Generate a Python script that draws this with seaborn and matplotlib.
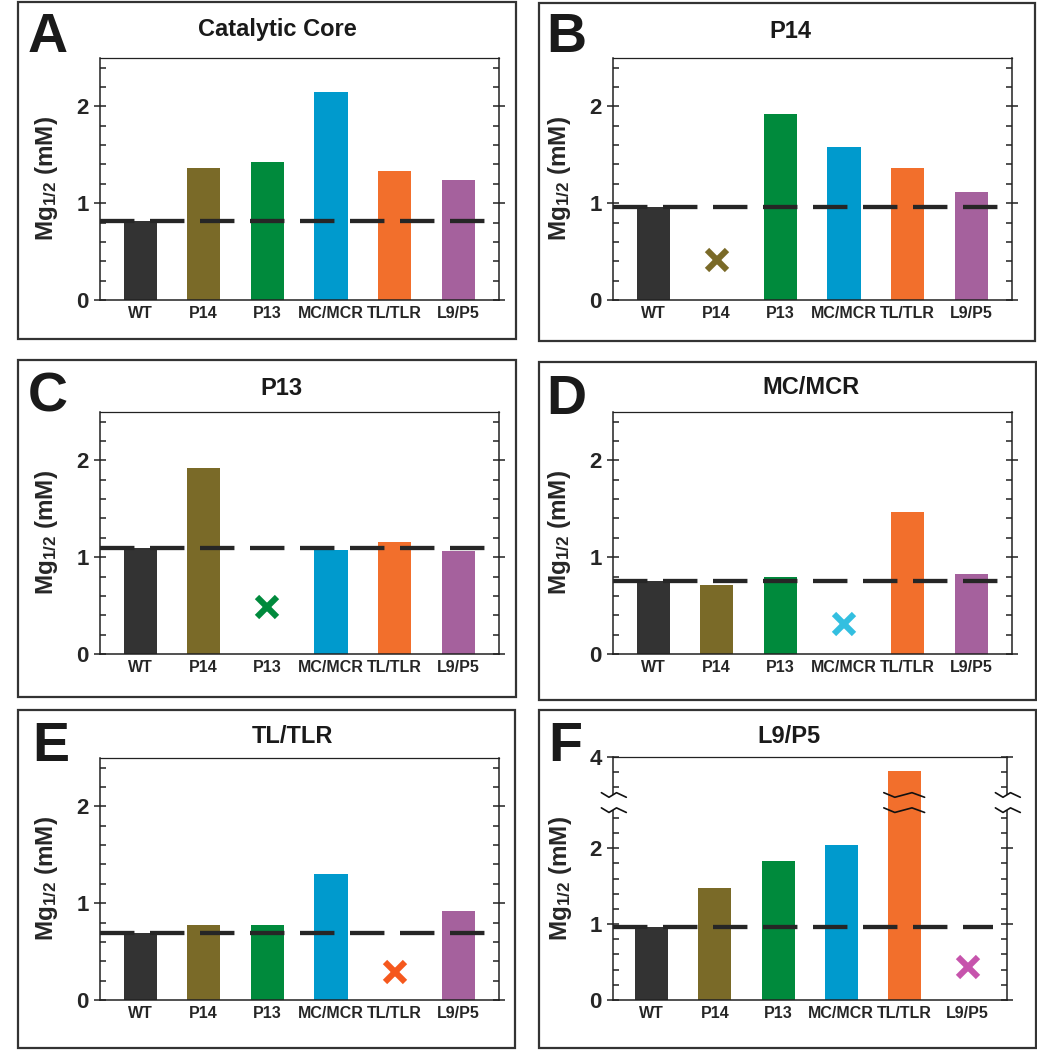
import numpy as np
import pandas as pd
import matplotlib
matplotlib.use("Agg")
import matplotlib.pyplot as plt
import matplotlib.transforms as mtransforms
from matplotlib.patches import Rectangle
import seaborn as sns

# ---- data ----
categories = ["WT", "P14", "P13", "MC/MCR", "TL/TLR", "L9/P5"]
bar_colors = ["#333333", "#7a6a28", "#008a3c", "#009acd", "#f26f2c", "#a5619d"]
panel_letters = ["A", "B", "C", "D", "E", "F"]
panel_titles = ["Catalytic Core", "P14", "P13", "MC/MCR", "TL/TLR", "L9/P5"]

vals_A = [0.82, 1.36, 1.43, 2.15, 1.33, 1.24]
vals_B = [0.96, np.nan, 1.92, 1.58, 1.36, 1.12]
vals_C = [1.10, 1.92, np.nan, 1.07, 1.16, 1.06]
vals_D = [0.75, 0.71, 0.80, np.nan, 1.47, 0.83]
vals_E = [0.69, 0.77, 0.77, 1.30, np.nan, 0.92]
vals_F = [0.96, 1.48, 1.83, 2.04, 3.81, np.nan]
all_vals = [vals_A, vals_B, vals_C, vals_D, vals_E, vals_F]

# "x" markers for the construct that was mutated in each panel
cross_vals = [None, 0.41, 0.49, 0.31, 0.29, 0.44]
cross_colors = [None, "#7a6a28", "#008a3c", "#33bfe0", "#f5581d", "#c654ac"]

y_major = [0, 1, 2]
y_major_F = [0, 1, 2, 4]

# ---- layout (pixels) ----
W, H = 1037, 1050
axes_px = [(100, 58, 499, 300), (613, 58, 1012, 300),
           (100, 412, 499, 654), (613, 412, 1012, 654),
           (100, 758, 499, 1000), (613, 757, 1007, 1000)]
box_px = [(18, 2, 516, 339), (539, 3, 1035, 341),
          (18, 360, 516, 697), (539, 362, 1036, 700),
          (18, 710, 515, 1048), (539, 710, 1036, 1048)]
letter_px = [(28, 52), (546, 52), (28, 412), (546, 414), (32, 761), (548, 761)]
title_px = [(277, 36), (790, 38), (281, 395), (811, 394), (292, 743), (789, 743)]

sns.set_style("white")
plt.rcParams["font.family"] = ["Liberation Sans", "DejaVu Sans"]
plt.rcParams["font.weight"] = "bold"
plt.rcParams["mathtext.fontset"] = "custom"
plt.rcParams["mathtext.rm"] = "Liberation Sans"
plt.rcParams["mathtext.default"] = "rm"
plt.rcParams["lines.scale_dashes"] = False

fig = plt.figure(figsize=(W / 100, H / 100), dpi=100)
fig.patch.set_facecolor("white")


def rect(l, t, r, b):
    return [l / W, 1 - b / H, (r - l) / W, (b - t) / H]


# broken y axis for panel F: 2.5-3.5 squeezed into a small gap
def fwd(y):
    y = np.asarray(y, dtype=float)
    return np.where(y <= 2.5, y, np.where(y <= 3.5, 2.5 + (y - 2.5) * 0.2, y - 0.8))


def inv(d):
    d = np.asarray(d, dtype=float)
    return np.where(d <= 2.5, d, np.where(d <= 2.7, 2.5 + (d - 2.5) / 0.2, d + 0.8))


palette = dict(zip(categories, bar_colors))

for i in range(6):
    vals = all_vals[i]
    ax = fig.add_axes(rect(*axes_px[i]))
    df = pd.DataFrame({"construct": categories, "mg": vals}).dropna()
    sns.barplot(data=df, x="construct", y="mg", hue="construct", order=categories,
                hue_order=categories, palette=palette, width=0.52, saturation=1,
                legend=False, errorbar=None, linewidth=0, ax=ax)

    broken = i == 5
    if broken:
        ax.set_yscale("function", functions=(fwd, inv))
        ax.set_ylim(0, 4)
        ax.set_yticks(y_major_F)
        ax.set_yticks(list(np.arange(0.2, 2.45, 0.2)) + [3.6, 3.8], minor=True)
        ax.set_xlim(-0.61, 5.62)
    else:
        ax.set_ylim(0, 2.5)
        ax.set_yticks(y_major)
        ax.set_yticks(np.arange(0.2, 2.45, 0.2), minor=True)
        ax.set_xlim(-0.63, 5.64)
    ax.set_yticklabels([str(t) for t in ax.get_yticks()])

    # WT reference (dashed)
    ax.axhline(vals[0], xmin=0, xmax=0.965, color="#262626", lw=3.1,
               dashes=(24.8, 11.2), zorder=5)

    # cross for the missing construct
    miss = [k for k, v in enumerate(vals) if np.isnan(v)]
    if miss:
        ax.plot(miss[0], cross_vals[i], marker="x", ms=15, mew=4.4,
                color=cross_colors[i], zorder=4, linestyle="none")

    ax.set_xlabel("")
    ax.set_ylabel("Mg$_{1/2}$ (mM)", fontsize=17.5, fontweight="bold")
    ax.yaxis.set_label_coords(-0.10, 0.5)

    ax.tick_params(axis="y", which="major", direction="inout", length=9, width=1.1,
                   left=True, right=True, labelsize=16, pad=3.5, color="#222222")
    ax.tick_params(axis="y", which="minor", direction="in", length=4.5, width=1.1,
                   left=True, right=True, color="#222222")
    ax.tick_params(axis="x", length=0, pad=4, labelsize=11.5)
    for s in ax.spines.values():
        s.set_visible(True)
        s.set_linewidth(1.1)
        s.set_color("#222222")
    ax.spines["top"].set_linewidth(0.9)

    if broken:
        # break markers on spines and across the tall bar
        aw = axes_px[i][2] - axes_px[i][0]
        ah = axes_px[i][3] - axes_px[i][1]
        y_lo, y_hi = fwd(2.5) / fwd(4.0), fwd(3.5) / fwd(4.0)
        zx = np.array([-11.6, -4.0, 3.5, 13.3]) / aw
        zy = np.array([2.3, -2.3, 2.3, -2.3]) / ah
        for xs in (0, 1):
            ax.add_patch(Rectangle((xs - 0.01, y_lo), 0.02, y_hi - y_lo,
                                   transform=ax.transAxes, facecolor="white",
                                   edgecolor="none", zorder=3, clip_on=False))
            for yc in (y_lo, y_hi):
                ax.plot(xs + zx, yc + zy, color="#111111", lw=1.2,
                        transform=ax.transAxes, clip_on=False, zorder=6)
        px_per_x = aw / (ax.get_xlim()[1] - ax.get_xlim()[0])
        blend = mtransforms.blended_transform_factory(ax.transData, ax.transAxes)
        for p in ax.patches:
            if isinstance(p, Rectangle) and abs(p.get_x() + p.get_width() / 2 - 4) < 0.1:
                x0, x1 = p.get_x(), p.get_x() + p.get_width()
                bx = np.array([x0 - 4.3 / px_per_x, x0 + 6.7 / px_per_x,
                               x1 - 9.0 / px_per_x, x1 + 3.6 / px_per_x])
                for yc in (y_lo, y_hi):
                    ax.plot(bx, yc + zy, color="#111111", lw=1.2,
                            transform=blend, clip_on=False, zorder=6)

    # panel frame, letter, title
    l, t, r, b = box_px[i]
    fig.add_artist(Rectangle((l / W, 1 - b / H), (r - l) / W, (b - t) / H,
                             transform=fig.transFigure, fill=False,
                             linewidth=1.6, edgecolor="#333333"))
    lx, ly = letter_px[i]
    fig.text(lx / W, 1 - ly / H, panel_letters[i], fontsize=40, fontweight="bold",
             ha="left", va="baseline", color="#1a1a1a")
    tx, ty = title_px[i]
    fig.text(tx / W, 1 - ty / H, panel_titles[i], fontsize=17, fontweight="bold",
             ha="center", va="baseline", color="#1a1a1a")

fig.savefig("out.png", dpi=100, facecolor="white")
